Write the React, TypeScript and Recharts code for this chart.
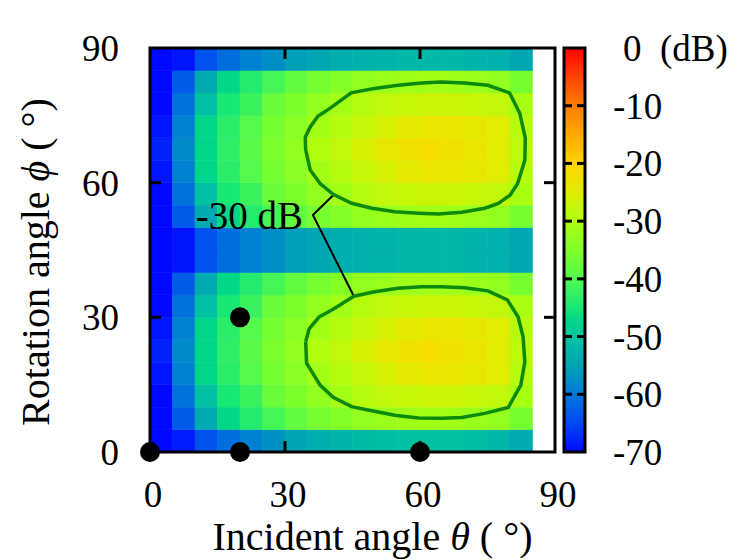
import React from "react";
import {
  ScatterChart, Scatter, XAxis, YAxis, ReferenceArea, ReferenceLine, ReferenceDot, Label,
} from "recharts";

const FONT = '"Liberation Serif", "Times New Roman", serif';

// cell edges (deg)
const THETA_EDGES = [0, 5, 10, 15, 20, 25, 30, 35, 40, 45, 50, 55, 60, 65, 70, 75, 80, 85];
const PHI_EDGES = [0, 5, 10, 15, 20, 25, 30, 35, 40, 45, 50, 55, 60, 65, 70, 75, 80, 85, 90];

// level in dB, rows from phi 0-5 (bottom) up to 85-90, columns theta 0-5 ... 80-85
const LEVEL_DB = [
  [-70, -68.5, -64, -61, -59, -57, -55, -53.5, -52.5, -51.5, -51, -50.5, -50.5, -50.5, -51, -52, -54],
  [-70, -63, -54, -47, -44, -41, -38, -36, -34.5, -33, -32, -31.5, -31, -31.5, -32, -33, -36],
  [-70, -60.5, -50.5, -45, -42, -37.5, -35.5, -33, -31, -29, -28, -27.5, -27, -27, -27.5, -28, -30.5],
  [-69, -59, -47.5, -43.5, -39.5, -36, -34, -31, -29, -27.5, -26, -24.5, -23.5, -23.5, -24, -25, -29],
  [-68, -58, -47.5, -43, -39, -35.5, -33, -29.5, -28, -26, -24, -22.5, -22, -22.5, -23.5, -25, -28.5],
  [-69, -59, -47.5, -43.5, -39.5, -36, -34, -31, -29, -27.5, -26, -24.5, -23.5, -23.5, -24, -25, -29],
  [-70, -60.5, -50.5, -45, -42, -37.5, -35.5, -33, -31, -29, -28, -27.5, -27, -27, -27.5, -28, -30.5],
  [-70, -63, -54, -47, -44, -41, -38, -36, -34.5, -33, -32, -31.5, -31, -31.5, -32, -33, -36],
  [-70, -69, -64, -61, -59, -57.5, -55.5, -54.5, -53.5, -53, -52.5, -52, -52, -52, -52.5, -53, -54.5],
  [-70, -69, -64, -61, -59, -57.5, -55.5, -54.5, -53.5, -53, -52.5, -52, -52, -52, -52.5, -53, -54.5],
  [-70, -63, -54, -47, -44, -41, -38, -36, -34.5, -33, -32, -31.5, -31, -31.5, -32, -33, -36],
  [-70, -60.5, -50.5, -45, -42, -37.5, -35.5, -33, -31, -29, -28, -27.5, -27, -27, -27.5, -28, -30.5],
  [-69, -59, -47.5, -43.5, -39.5, -36, -34, -31, -29, -27.5, -26, -24.5, -23.5, -23.5, -24, -25, -29],
  [-68, -58, -47.5, -43, -39, -35.5, -33, -29.5, -28, -26, -24, -22.5, -22, -22.5, -23.5, -25, -28.5],
  [-69, -59, -47.5, -43.5, -39.5, -36, -34, -31, -29, -27.5, -26, -24.5, -23.5, -23.5, -24, -25, -29],
  [-70, -60.5, -50.5, -45, -42, -37.5, -35.5, -33, -31, -29, -28, -27.5, -27, -27, -27.5, -28, -30.5],
  [-70, -63, -54, -47, -44, -41, -38, -36, -34.5, -33, -32, -31.5, -31, -31.5, -32, -33, -36],
  [-70, -69, -64, -61, -59, -57.5, -55.5, -54.5, -53.5, -53, -52.5, -52, -52, -52, -52.5, -53, -54.5],
];

// measured points (theta, phi)
const MARKERS = [[0, 0], [20, 0], [60, 0], [20, 30]];

// -30 dB contours
const CONTOUR_UPPER = [
  [34.6, 67.3], [34.5, 70.1], [35.6, 72.4], [37.3, 74.8], [39.9, 76.5], [44.7, 80.0], [49.9, 81.0],
  [55.1, 81.7], [60.3, 82.2], [64.7, 82.4], [69.9, 82.2], [75.1, 81.7], [79.9, 80.0], [82.2, 75.4],
  [83.4, 69.9], [83.3, 65.0], [81.7, 59.8], [80.0, 57.2], [77.4, 55.4], [74.4, 54.3], [69.3, 53.4],
  [64.1, 53.0], [59.6, 53.2], [54.4, 53.5], [49.3, 54.3], [44.8, 55.4], [40.7, 57.4], [37.8, 59.8],
  [35.6, 62.8], [34.6, 67.3],
];
const CONTOUR_LOWER = [
  [34.6, 24.6], [35.4, 27.5], [37.6, 30.1], [40.7, 31.8], [45.3, 34.7], [49.9, 35.7], [55.1, 36.5],
  [60.3, 36.8], [64.7, 36.8], [69.9, 36.6], [75.1, 35.9], [79.4, 33.9], [81.8, 30.1], [82.9, 25.7],
  [83.3, 20.1], [82.4, 14.9], [79.6, 9.9], [74.4, 8.6], [69.3, 7.7], [64.8, 7.5], [59.6, 7.6],
  [54.4, 8.2], [49.3, 9.2], [44.8, 10.1], [40.7, 12.2], [37.8, 14.9], [34.8, 19.8], [34.6, 24.6],
];

const LEADER_FROM = [36.2, 52.8];
const LEADER_TO = [[40.7, 57.2], [45.3, 34.7]];
const LEADER_TEXT = "-30 dB";

const AXIS_TICKS = [0, 30, 60, 90];
const INNER_TICKS = [30, 60];
const CBAR_TICKS = [-70, -60, -50, -40, -30, -20, -10, 0];
const CBAR_INNER = [-60, -50, -40, -30, -20, -10];

const CMAP: [number, string][] = [
  [-70, "#0008ff"], [-65, "#0048f4"], [-60, "#0078d8"], [-55, "#00a4b4"], [-50, "#00c4a0"],
  [-47, "#00d888"], [-45, "#18e874"], [-40, "#50f850"], [-35, "#80ff28"], [-30, "#acff10"],
  [-25, "#e0ec00"], [-20, "#ffd400"], [-15, "#ffa800"], [-10, "#ff7c00"], [-5, "#ff4400"], [0, "#ff0000"],
];
const CB_MIN = -70;
const CB_MAX = 0;

const TICK_LEN = 2.45;
const CB_TICK_PX = 8;
const CONTOUR_STYLE = { stroke: "#0b8a0b", strokeWidth: 3.5 };

function hexToRgb(h: string) {
  return [1, 3, 5].map((i) => parseInt(h.slice(i, i + 2), 16));
}

function dbColor(v: number) {
  if (v <= CMAP[0][0]) return CMAP[0][1];
  for (let i = 1; i < CMAP.length; i++) {
    const [v1, c1] = CMAP[i];
    const [v0, c0] = CMAP[i - 1];
    if (v <= v1) {
      const t = (v - v0) / (v1 - v0);
      const a = hexToRgb(c0);
      const b = hexToRgb(c1);
      const m = a.map((q, k) => Math.round(q + (b[k] - q) * t));
      return `rgb(${m[0]},${m[1]},${m[2]})`;
    }
  }
  return CMAP[CMAP.length - 1][1];
}

const XTitle = (props: any) => {
  const { viewBox } = props;
  return (
    <text x={viewBox.x + viewBox.width / 2 + 20} y={viewBox.y + 98} textAnchor="middle"
      fontFamily={FONT} fontSize={40} fill="#000">
      Incident angle <tspan fontStyle="italic">θ</tspan> ( °)
    </text>
  );
};

const YTitle = () => (
  <text transform="translate(49, 262) rotate(-90)" x={0} y={0} textAnchor="middle"
    fontFamily={FONT} fontSize={40} fill="#000">
    Rotation angle <tspan fontStyle="italic">ϕ</tspan> ( °)
  </text>
);

const CbTick = (p: any) => {
  const { x, y, payload } = p;
  if (payload.value === 0) {
    return (
      <g fontFamily={FONT} fontSize={37} fill="#000">
        <text x={x + 10} y={y} dy="0.35em">0</text>
        <text x={x + 47} y={y} dy="0.35em">(dB)</text>
      </g>
    );
  }
  return (
    <text x={x} y={y} dy="0.35em" fontFamily={FONT} fontSize={37} fill="#000">{payload.value}</text>
  );
};

// inward colour bar marks, one series per edge
const LeftMark = (p: any) => <rect x={p.cx} y={p.cy - 1.5} width={CB_TICK_PX} height={3} fill="#000" />;
const RightMark = (p: any) => <rect x={p.cx - CB_TICK_PX} y={p.cy - 1.5} width={CB_TICK_PX} height={3} fill="#000" />;

const toPts = (arr: number[][]) => arr.map(([x, y]) => ({ x, y }));

export default function App() {
  const tickStyle = { fontFamily: FONT, fontSize: 37, fill: "#000" };
  return (
    <div style={{ position: "absolute", left: 0, top: 0, width: 744, height: 560, background: "#fff" }}>
      <ScatterChart width={744} height={560} margin={{ top: 48, right: 189, bottom: 48, left: 90 }}>
        <XAxis type="number" dataKey="x" domain={[0, 90]} ticks={AXIS_TICKS} interval={0}
          axisLine={false} tickLine={false} tickMargin={23} height={60} tick={{ ...tickStyle, dx: 3 }}>
          <Label content={XTitle} />
        </XAxis>
        <YAxis type="number" dataKey="y" domain={[0, 90]} ticks={AXIS_TICKS} interval={0}
          axisLine={false} tickLine={false} tickMargin={25} width={60} tick={tickStyle}>
          <Label content={YTitle} />
        </YAxis>

        {LEVEL_DB.flatMap((row, j) =>
          row.map((v, i) => {
            const c = dbColor(v);
            return (
              <ReferenceArea key={`c${j}-${i}`} x1={THETA_EDGES[i]} x2={THETA_EDGES[i + 1] ?? 85}
                y1={PHI_EDGES[j]} y2={PHI_EDGES[j + 1]} fill={c} fillOpacity={1} stroke={c} strokeWidth={0.6} />
            );
          })
        )}

        {INNER_TICKS.map((t) => (
          <ReferenceLine key={`b${t}`} ifOverflow="visible" segment={[{ x: t, y: 0 }, { x: t, y: TICK_LEN }]}
            stroke="#000" strokeWidth={3} />
        ))}
        {INNER_TICKS.map((t) => (
          <ReferenceLine key={`t${t}`} ifOverflow="visible" segment={[{ x: t, y: 90 }, { x: t, y: 90 - TICK_LEN }]}
            stroke="#000" strokeWidth={3} />
        ))}
        {INNER_TICKS.map((t) => (
          <ReferenceLine key={`l${t}`} ifOverflow="visible" segment={[{ x: 0, y: t }, { x: TICK_LEN, y: t }]}
            stroke="#000" strokeWidth={3} />
        ))}
        {INNER_TICKS.map((t) => (
          <ReferenceLine key={`r${t}`} ifOverflow="visible" segment={[{ x: 90, y: t }, { x: 90 - TICK_LEN, y: t }]}
            stroke="#000" strokeWidth={3} />
        ))}

        {LEADER_TO.map((p, k) => (
          <ReferenceLine key={`ld${k}`} ifOverflow="visible"
            segment={[{ x: LEADER_FROM[0], y: LEADER_FROM[1] }, { x: p[0], y: p[1] }]}
            stroke="#000" strokeWidth={2} />
        ))}
        <ReferenceDot x={LEADER_FROM[0]} y={LEADER_FROM[1]} r={1} fill="#000" stroke="none"
          label={{ value: LEADER_TEXT, position: "left", offset: 9, fontSize: 39, fontFamily: FONT, fill: "#000" }} />

        <ReferenceArea x1={0} x2={90} y1={0} y2={90} fill="none" fillOpacity={0} stroke="#000" strokeWidth={3} />

        <Scatter data={toPts(CONTOUR_UPPER)} line={CONTOUR_STYLE} lineType="joint"
          shape={() => <g />} isAnimationActive={false} />
        <Scatter data={toPts(CONTOUR_LOWER)} line={CONTOUR_STYLE} lineType="joint"
          shape={() => <g />} isAnimationActive={false} />
        <Scatter data={toPts(MARKERS)} fill="#000" isAnimationActive={false}
          shape={(p: any) => <circle cx={p.cx} cy={p.cy} r={10} fill="#000" />} />
      </ScatterChart>

      <div style={{ position: "absolute", left: 540, top: 0, width: 204, height: 560 }}>
        <ScatterChart width={204} height={560} margin={{ top: 48, right: 9, bottom: 108, left: 24 }}>
          <defs>
            <linearGradient id="cbGrad" x1="0" y1="1" x2="0" y2="0">
              {CMAP.map(([v, c]) => (
                <stop key={v} offset={(v - CB_MIN) / (CB_MAX - CB_MIN)} stopColor={c} />
              ))}
            </linearGradient>
          </defs>
          <XAxis type="number" dataKey="x" domain={[0, 1]} hide />
          <YAxis type="number" dataKey="y" orientation="right" domain={[CB_MIN, CB_MAX]} ticks={CBAR_TICKS}
            interval={0} width={150} axisLine={false} tickLine={false} tickMargin={22} tick={CbTick} />
          <ReferenceArea x1={0} x2={1} y1={CB_MIN} y2={CB_MAX} fill="url(#cbGrad)" fillOpacity={1} />
          <ReferenceArea x1={0} x2={1} y1={CB_MIN} y2={CB_MAX} fill="none" fillOpacity={0} stroke="#000" strokeWidth={3} />
          <Scatter data={CBAR_INNER.map((v) => ({ x: 0, y: v }))} isAnimationActive={false} shape={LeftMark} />
          <Scatter data={CBAR_INNER.map((v) => ({ x: 1, y: v }))} isAnimationActive={false} shape={RightMark} />
        </ScatterChart>
      </div>
    </div>
  );
}
